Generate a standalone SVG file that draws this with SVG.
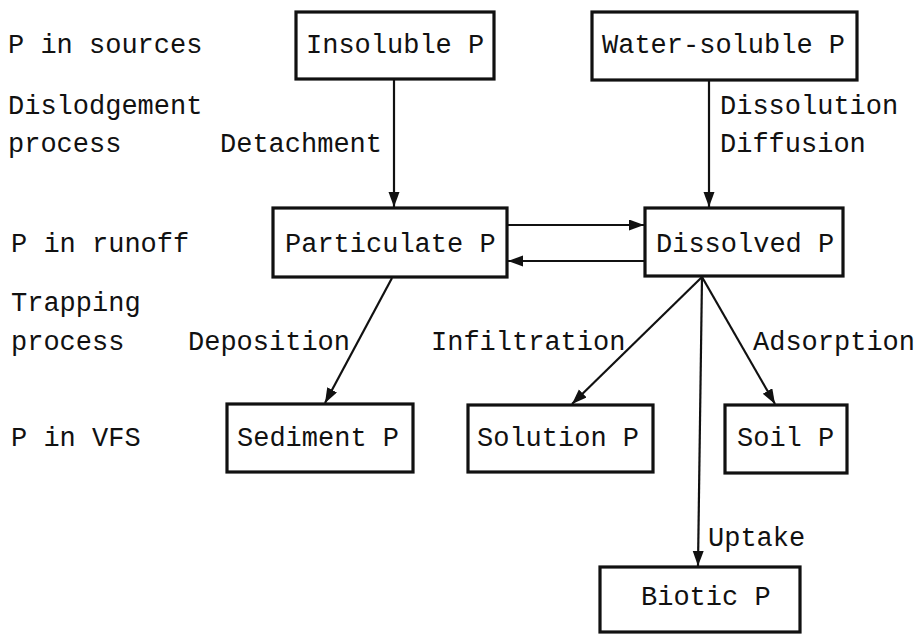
<svg xmlns="http://www.w3.org/2000/svg" width="917" height="634" viewBox="0 0 917 634">
<defs>
<style>
text{font-family:"Liberation Mono","DejaVu Sans Mono",monospace;font-size:27px;letter-spacing:0px;fill:#111}
.box{fill:#fff;stroke:#111;stroke-width:3.2}
.edge{stroke:#111;stroke-width:2.2;fill:none;marker-end:url(#ah)}
</style>
<marker id="ah" markerUnits="userSpaceOnUse" markerWidth="16" markerHeight="12" refX="15" refY="5.5" orient="auto">
<path d="M0,0 L15,5.5 L0,11 z" fill="#111"/>
</marker>
</defs>
<rect width="917" height="634" fill="#fff"/>
<g id="labels">
<text x="8" y="53">P in sources</text>
<text x="8" y="114">Dislodgement</text>
<text x="8" y="152">process</text>
<text x="220" y="152">Detachment</text>
<text x="720" y="114">Dissolution</text>
<text x="720" y="152">Diffusion</text>
<text x="11" y="252">P in runoff</text>
<text x="11" y="311">Trapping</text>
<text x="11" y="350">process</text>
<text x="188" y="350">Deposition</text>
<text x="431" y="350">Infiltration</text>
<text x="753" y="350">Adsorption</text>
<text x="11" y="446">P in VFS</text>
<text x="708" y="546">Uptake</text>
</g>
<g id="connectors">
<line class="edge" x1="394" y1="79" x2="394" y2="207"/>
<line class="edge" x1="709" y1="80" x2="709" y2="207"/>
<line class="edge" x1="507" y1="225" x2="644" y2="225"/>
<line class="edge" x1="645" y1="261" x2="508" y2="261"/>
<line class="edge" x1="392" y1="278" x2="325" y2="403"/>
<line class="edge" x1="702" y1="277" x2="572" y2="404"/>
<line class="edge" x1="702" y1="277" x2="775" y2="404"/>
<line class="edge" x1="702" y1="277" x2="698" y2="566"/>
</g>
<g id="insoluble"><rect class="box" x="296" y="12" width="198" height="67"/><text x="306" y="53">Insoluble P</text></g>
<g id="watersoluble"><rect class="box" x="592" y="12" width="265" height="68"/><text x="602" y="53">Water-soluble P</text></g>
<g id="particulate"><rect class="box" x="273" y="208" width="234" height="69"/><text x="285" y="252">Particulate P</text></g>
<g id="dissolved"><rect class="box" x="645" y="208" width="198" height="68"/><text x="656" y="252">Dissolved P</text></g>
<g id="sediment"><rect class="box" x="227" y="404" width="186" height="68"/><text x="237" y="446">Sediment P</text></g>
<g id="solution"><rect class="box" x="468" y="405" width="185" height="67"/><text x="477" y="446">Solution P</text></g>
<g id="soil"><rect class="box" x="725" y="405" width="122" height="68"/><text x="737" y="446">Soil P</text></g>
<g id="biotic"><rect class="box" x="600" y="567" width="200" height="65"/><text x="641" y="605">Biotic P</text></g>
</svg>
